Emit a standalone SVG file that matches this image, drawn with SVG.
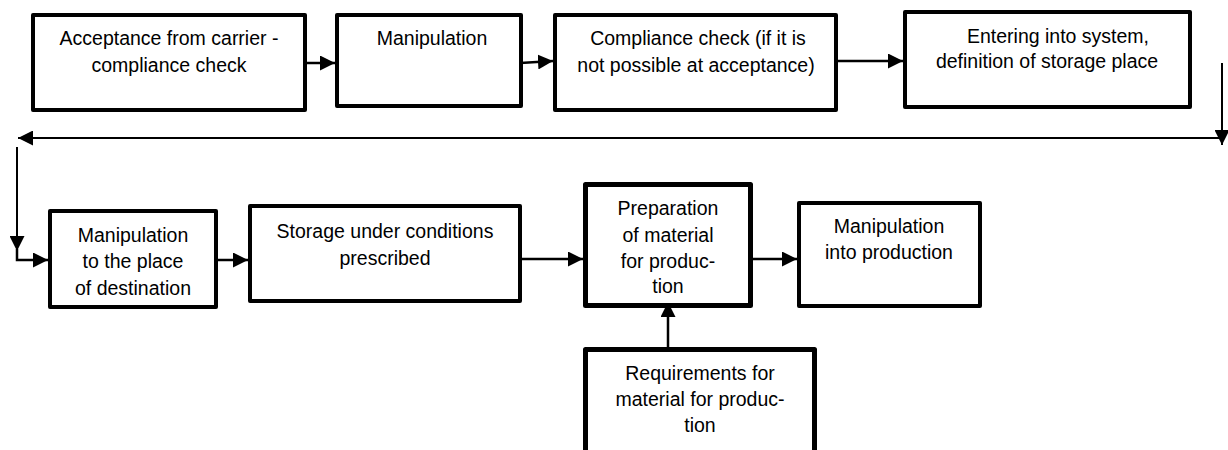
<svg xmlns="http://www.w3.org/2000/svg" width="1228" height="450" viewBox="0 0 1228 450">
<defs>
<marker id="ah" markerUnits="userSpaceOnUse" markerWidth="16" markerHeight="15" refX="15" refY="7.5" orient="auto"><path d="M0,0 L15,7.5 L0,15 Z" fill="#000"/></marker>
<style>
.box{fill:#fff;stroke:#000;stroke-width:4;stroke-linejoin:round}
.thick{stroke-width:5}
.t{font-family:"Liberation Sans",Arial,sans-serif;font-size:19.5px;fill:#000;text-anchor:middle}
.c{fill:none;stroke:#000;stroke-width:2.5;marker-end:url(#ah)}
.thin{stroke-width:2}
</style>
</defs>
<rect width="1228" height="450" fill="#fff"/>
<g id="connectors">
<path class="c" d="M307,63 H335"/>
<path class="c" d="M505,64 L553,61"/>
<path class="c" d="M838,61 H903"/>
<path class="c thin" d="M1222,63 V145"/>
<path class="c thin" d="M1220,138 H18"/>
<path class="c thin" d="M17,147 V251"/>
<path class="c" d="M17,249 V260 H48"/>
<path class="c" d="M218,260 H248"/>
<path class="c" d="M522,259 H583"/>
<path class="c" d="M753,259 H797"/>
<path class="c" d="M668,347 V302"/>
</g>
<g id="n1"><rect class="box" x="33" y="15" width="272" height="95"/><text class="t" x="169" y="45">Acceptance from carrier -</text><text class="t" x="169" y="72">compliance check</text></g>
<g id="n2"><rect class="box" x="337" y="15" width="184" height="91"/><text class="t" x="432" y="45">Manipulation</text></g>
<g id="n3"><rect class="box" x="555" y="15" width="281" height="95"/><text class="t" x="698" y="45">Compliance check (if it is</text><text class="t" x="696" y="72">not possible at acceptance)</text></g>
<g id="n4"><rect class="box" x="905" y="12" width="285" height="95"/><text class="t" x="1058" y="43">Entering into system,</text><text class="t" x="1047" y="68">definition of storage place</text></g>
<g id="n5"><rect class="box" x="50" y="211" width="166" height="96"/><text class="t" x="133" y="242">Manipulation</text><text class="t" x="133" y="268">to the place</text><text class="t" x="133" y="295">of destination</text></g>
<g id="n6"><rect class="box" x="250" y="206" width="270" height="95"/><text class="t" x="385" y="238">Storage under conditions</text><text class="t" x="385" y="265">prescribed</text></g>
<g id="n7"><rect class="box thick" x="585.5" y="184.5" width="165" height="121"/><text class="t" x="668" y="215">Preparation</text><text class="t" x="668" y="242">of material</text><text class="t" x="668" y="268">for produc-</text><text class="t" x="668" y="293">tion</text></g>
<g id="n8"><rect class="box" x="799" y="203" width="181" height="103"/><text class="t" x="889" y="233">Manipulation</text><text class="t" x="889" y="259">into production</text></g>
<g id="n9"><rect class="box thick" x="585.5" y="349.5" width="229" height="120"/><text class="t" x="700" y="380">Requirements for</text><text class="t" x="700" y="406">material for produc-</text><text class="t" x="700" y="432">tion</text></g>
</svg>
